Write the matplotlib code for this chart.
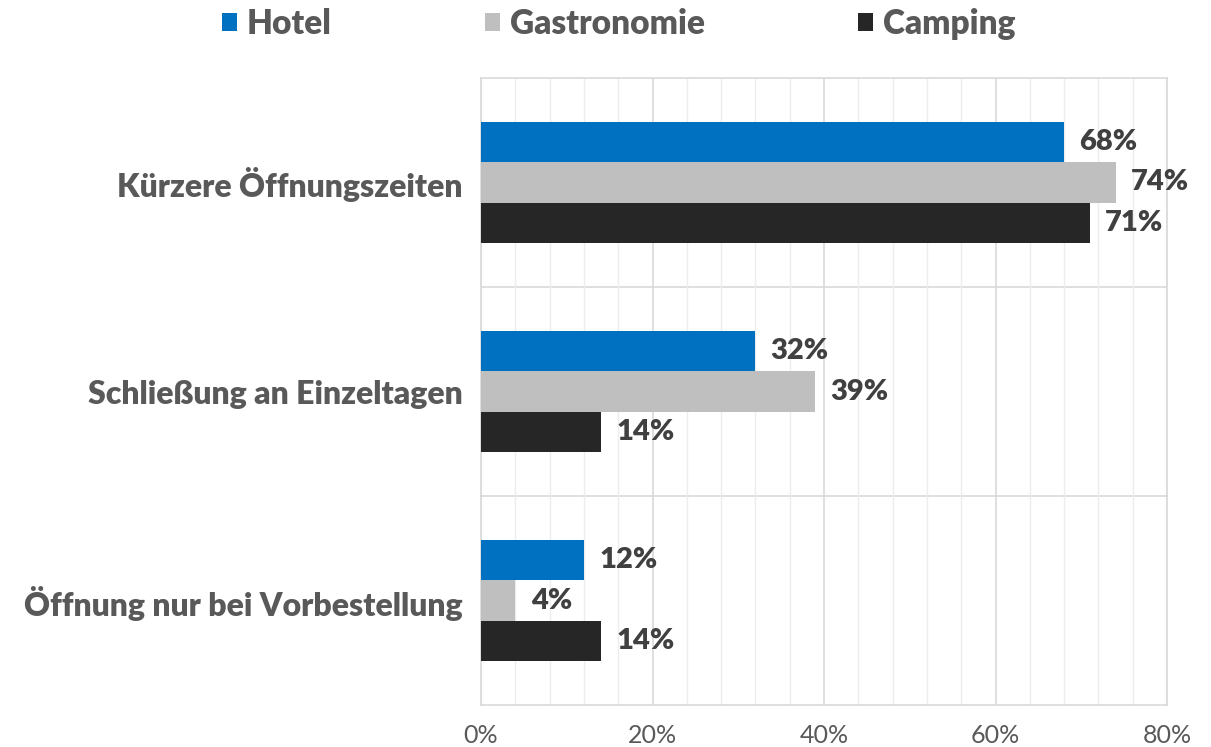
import matplotlib
matplotlib.use("Agg")
import matplotlib.pyplot as plt
from matplotlib.ticker import MultipleLocator, PercentFormatter
import numpy as np

categories = ["Kürzere Öffnungszeiten", "Schließung an Einzeltagen", "Öffnung nur bei Vorbestellung"]
series_names = ["Hotel", "Gastronomie", "Camping"]
hotel = [68, 32, 12]
gastronomie = [74, 39, 4]
camping = [71, 14, 14]
colors = ["#0070C0", "#BFBFBF", "#262626"]

plt.rcParams['font.family'] = ['Lato', 'DejaVu Sans']

fig = plt.figure(figsize=(12.11, 7.47), dpi=100)
ax = fig.add_axes([0.3972, 0.0562, 0.5665, 0.8394])

y = np.arange(len(categories))
h = 0.192
data = [hotel, gastronomie, camping]
handles = []
for i, (vals, c, name) in enumerate(zip(data, colors, series_names)):
    pos = y + (i - 1) * h
    b = ax.barh(pos, vals, height=h, color=c, label=name, zorder=3)
    handles.append(b)
    for p, v in zip(pos, vals):
        ax.annotate(f"{v}%", (v, p), xytext=(11, 0), textcoords="offset points",
                    ha="left", va="center", fontsize=21, fontweight="heavy",
                    color="#404040", zorder=4)

ax.set_xlim(0, 80)
ax.set_ylim(2.5, -0.5)
ax.xaxis.set_major_locator(MultipleLocator(20))
ax.xaxis.set_minor_locator(MultipleLocator(4))
ax.xaxis.set_major_formatter(PercentFormatter(decimals=0))
ax.grid(axis="x", which="major", color="#D9D9D9", linewidth=1.2, zorder=0)
ax.grid(axis="x", which="minor", color="#EDEDED", linewidth=1.0, zorder=0)
for yb in [0.5, 1.5]:
    ax.axhline(yb, color="#D9D9D9", linewidth=1.2, zorder=1)

ax.set_yticks(y)
ax.set_yticklabels(categories, fontsize=23, fontweight="heavy", color="#595959")
ax.tick_params(axis="y", length=0, pad=13)
ax.tick_params(axis="x", which="both", length=0, pad=14, labelsize=18, labelcolor="#595959")
for lbl in ax.get_xticklabels():
    lbl.set_family(['Liberation Sans Narrow', 'Lato'])
for s in ax.spines.values():
    s.set_color("#D9D9D9")
    s.set_linewidth(1.2)

leg = fig.legend(handles=handles, labels=series_names, loc="upper center",
                 bbox_to_anchor=(0.511, 1.03), ncol=3, frameon=False,
                 handlelength=0.45, handleheight=0.45, handletextpad=0.3,
                 columnspacing=4.6, prop={"size": 24, "weight": "heavy"})
for t in leg.get_texts():
    t.set_color("#595959")

fig.savefig("out.png", dpi=100)
